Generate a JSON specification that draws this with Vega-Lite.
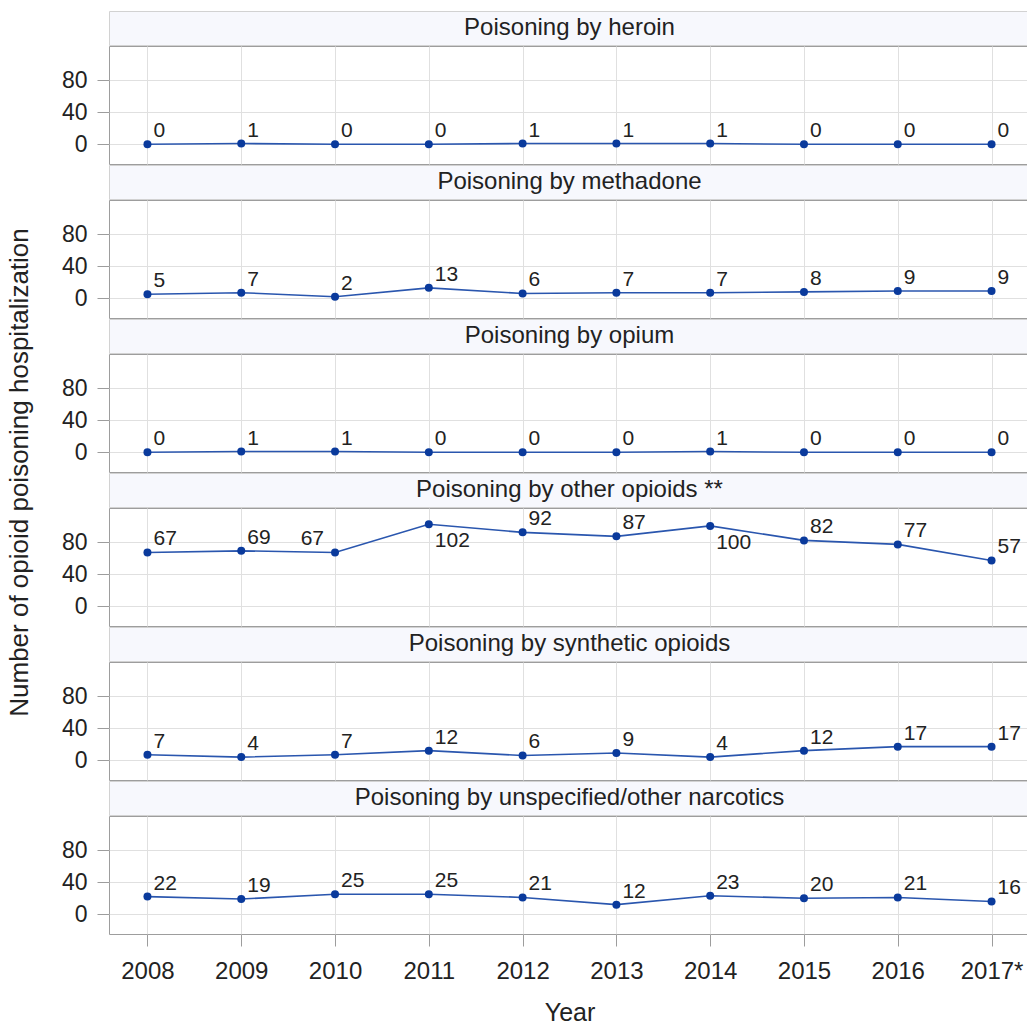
{
  "$schema": "https://vega.github.io/schema/vega-lite/v6.json",
  "padding": {"left": 0, "top": 10, "right": 0, "bottom": 0},
  "background": "white",
  "config": {
    "font": "Liberation Sans",
    "view": {"stroke": null},
    "axis": {
      "domain": false,
      "grid": true,
      "gridColor": "#e0e0e0",
      "gridWidth": 1,
      "tickColor": "#9d9d9d",
      "tickSize": 12,
      "labelColor": "#222222",
      "titleColor": "#222222",
      "titleFontWeight": "normal",
      "labelPadding": 10
    },
    "text": {"color": "#222222"}
  },
  "datasets": {
    "counts": [
      {"panel": "Poisoning by heroin", "year": "2008", "count": 0},
      {"panel": "Poisoning by heroin", "year": "2009", "count": 1},
      {"panel": "Poisoning by heroin", "year": "2010", "count": 0},
      {"panel": "Poisoning by heroin", "year": "2011", "count": 0},
      {"panel": "Poisoning by heroin", "year": "2012", "count": 1},
      {"panel": "Poisoning by heroin", "year": "2013", "count": 1},
      {"panel": "Poisoning by heroin", "year": "2014", "count": 1},
      {"panel": "Poisoning by heroin", "year": "2015", "count": 0},
      {"panel": "Poisoning by heroin", "year": "2016", "count": 0},
      {"panel": "Poisoning by heroin", "year": "2017*", "count": 0},
      {"panel": "Poisoning by methadone", "year": "2008", "count": 5},
      {"panel": "Poisoning by methadone", "year": "2009", "count": 7},
      {"panel": "Poisoning by methadone", "year": "2010", "count": 2},
      {"panel": "Poisoning by methadone", "year": "2011", "count": 13},
      {"panel": "Poisoning by methadone", "year": "2012", "count": 6},
      {"panel": "Poisoning by methadone", "year": "2013", "count": 7},
      {"panel": "Poisoning by methadone", "year": "2014", "count": 7},
      {"panel": "Poisoning by methadone", "year": "2015", "count": 8},
      {"panel": "Poisoning by methadone", "year": "2016", "count": 9},
      {"panel": "Poisoning by methadone", "year": "2017*", "count": 9},
      {"panel": "Poisoning by opium", "year": "2008", "count": 0},
      {"panel": "Poisoning by opium", "year": "2009", "count": 1},
      {"panel": "Poisoning by opium", "year": "2010", "count": 1},
      {"panel": "Poisoning by opium", "year": "2011", "count": 0},
      {"panel": "Poisoning by opium", "year": "2012", "count": 0},
      {"panel": "Poisoning by opium", "year": "2013", "count": 0},
      {"panel": "Poisoning by opium", "year": "2014", "count": 1},
      {"panel": "Poisoning by opium", "year": "2015", "count": 0},
      {"panel": "Poisoning by opium", "year": "2016", "count": 0},
      {"panel": "Poisoning by opium", "year": "2017*", "count": 0},
      {"panel": "Poisoning by other opioids **", "year": "2008", "count": 67},
      {"panel": "Poisoning by other opioids **", "year": "2009", "count": 69},
      {"panel": "Poisoning by other opioids **", "year": "2010", "count": 67},
      {"panel": "Poisoning by other opioids **", "year": "2011", "count": 102},
      {"panel": "Poisoning by other opioids **", "year": "2012", "count": 92},
      {"panel": "Poisoning by other opioids **", "year": "2013", "count": 87},
      {"panel": "Poisoning by other opioids **", "year": "2014", "count": 100},
      {"panel": "Poisoning by other opioids **", "year": "2015", "count": 82},
      {"panel": "Poisoning by other opioids **", "year": "2016", "count": 77},
      {"panel": "Poisoning by other opioids **", "year": "2017*", "count": 57},
      {"panel": "Poisoning by synthetic opioids", "year": "2008", "count": 7},
      {"panel": "Poisoning by synthetic opioids", "year": "2009", "count": 4},
      {"panel": "Poisoning by synthetic opioids", "year": "2010", "count": 7},
      {"panel": "Poisoning by synthetic opioids", "year": "2011", "count": 12},
      {"panel": "Poisoning by synthetic opioids", "year": "2012", "count": 6},
      {"panel": "Poisoning by synthetic opioids", "year": "2013", "count": 9},
      {"panel": "Poisoning by synthetic opioids", "year": "2014", "count": 4},
      {"panel": "Poisoning by synthetic opioids", "year": "2015", "count": 12},
      {"panel": "Poisoning by synthetic opioids", "year": "2016", "count": 17},
      {"panel": "Poisoning by synthetic opioids", "year": "2017*", "count": 17},
      {"panel": "Poisoning by unspecified/other narcotics", "year": "2008", "count": 22},
      {"panel": "Poisoning by unspecified/other narcotics", "year": "2009", "count": 19},
      {"panel": "Poisoning by unspecified/other narcotics", "year": "2010", "count": 25},
      {"panel": "Poisoning by unspecified/other narcotics", "year": "2011", "count": 25},
      {"panel": "Poisoning by unspecified/other narcotics", "year": "2012", "count": 21},
      {"panel": "Poisoning by unspecified/other narcotics", "year": "2013", "count": 12},
      {"panel": "Poisoning by unspecified/other narcotics", "year": "2014", "count": 23},
      {"panel": "Poisoning by unspecified/other narcotics", "year": "2015", "count": 20},
      {"panel": "Poisoning by unspecified/other narcotics", "year": "2016", "count": 21},
      {"panel": "Poisoning by unspecified/other narcotics", "year": "2017*", "count": 16}
    ],
    "ytitle": [{"t": "Number of opioid poisoning hospitalization"}]
  },
  "data": {"name": "counts"},
  "spacing": 20,
  "hconcat": [
    {
      "width": 40,
      "height": 923,
      "data": {"name": "ytitle"},
      "mark": {"type": "text", "angle": 270, "fontSize": 26, "align": "center", "baseline": "middle"},
      "encoding": {"text": {"field": "t"}}
    },
    {
      "spacing": 1,
      "bounds": "flush",
      "vconcat": [
        {
          "width": 921, "height": 34,
          "view": {"fill": "#f7f8fd", "stroke": "#d2d2d2"},
          "transform": [{"filter": "datum.panel === 'Poisoning by heroin' && datum.year === '2008'"}],
          "mark": {"type": "text", "fontSize": 24},
          "encoding": {"text": {"field": "panel"}}
        },
        {
          "width": 921, "height": 118,
          "view": {"stroke": "#9d9d9d"},
          "transform": [{"filter": "datum.panel === 'Poisoning by heroin'"}],
          "encoding": {
            "x": {"field": "year", "type": "ordinal", "scale": {"type": "point", "padding": 0.41},
                  "axis": {"labels": false, "ticks": false, "title": null}},
            "y": {"field": "count", "type": "quantitative", "scale": {"domain": [-24.5, 122.3], "nice": false, "zero": false},
                  "axis": {"values": [0, 40, 80], "title": null, "labelFontSize": 23}}
          },
          "layer": [
            {"mark": {"type": "line", "color": "#2a56ae", "strokeWidth": 1.6}},
            {"mark": {"type": "point", "filled": true, "size": 64, "color": "#0a3a9c", "opacity": 1}},
            {"mark": {"type": "text", "align": "left", "dx": 6, "dy": -13, "fontSize": 21}, "encoding": {"text": {"field": "count"}}}
          ]
        },
        {
          "width": 921, "height": 34,
          "view": {"fill": "#f7f8fd", "stroke": "#d2d2d2"},
          "transform": [{"filter": "datum.panel === 'Poisoning by methadone' && datum.year === '2008'"}],
          "mark": {"type": "text", "fontSize": 24},
          "encoding": {"text": {"field": "panel"}}
        },
        {
          "width": 921, "height": 118,
          "view": {"stroke": "#9d9d9d"},
          "transform": [{"filter": "datum.panel === 'Poisoning by methadone'"}],
          "encoding": {
            "x": {"field": "year", "type": "ordinal", "scale": {"type": "point", "padding": 0.41},
                  "axis": {"labels": false, "ticks": false, "title": null}},
            "y": {"field": "count", "type": "quantitative", "scale": {"domain": [-24.5, 122.3], "nice": false, "zero": false},
                  "axis": {"values": [0, 40, 80], "title": null, "labelFontSize": 23}}
          },
          "layer": [
            {"mark": {"type": "line", "color": "#2a56ae", "strokeWidth": 1.6}},
            {"mark": {"type": "point", "filled": true, "size": 64, "color": "#0a3a9c", "opacity": 1}},
            {"mark": {"type": "text", "align": "left", "dx": 6, "dy": -13, "fontSize": 21}, "encoding": {"text": {"field": "count"}}}
          ]
        },
        {
          "width": 921, "height": 34,
          "view": {"fill": "#f7f8fd", "stroke": "#d2d2d2"},
          "transform": [{"filter": "datum.panel === 'Poisoning by opium' && datum.year === '2008'"}],
          "mark": {"type": "text", "fontSize": 24},
          "encoding": {"text": {"field": "panel"}}
        },
        {
          "width": 921, "height": 118,
          "view": {"stroke": "#9d9d9d"},
          "transform": [{"filter": "datum.panel === 'Poisoning by opium'"}],
          "encoding": {
            "x": {"field": "year", "type": "ordinal", "scale": {"type": "point", "padding": 0.41},
                  "axis": {"labels": false, "ticks": false, "title": null}},
            "y": {"field": "count", "type": "quantitative", "scale": {"domain": [-24.5, 122.3], "nice": false, "zero": false},
                  "axis": {"values": [0, 40, 80], "title": null, "labelFontSize": 23}}
          },
          "layer": [
            {"mark": {"type": "line", "color": "#2a56ae", "strokeWidth": 1.6}},
            {"mark": {"type": "point", "filled": true, "size": 64, "color": "#0a3a9c", "opacity": 1}},
            {"mark": {"type": "text", "align": "left", "dx": 6, "dy": -13, "fontSize": 21}, "encoding": {"text": {"field": "count"}}}
          ]
        },
        {
          "width": 921, "height": 34,
          "view": {"fill": "#f7f8fd", "stroke": "#d2d2d2"},
          "transform": [{"filter": "datum.panel === 'Poisoning by other opioids **' && datum.year === '2008'"}],
          "mark": {"type": "text", "fontSize": 24},
          "encoding": {"text": {"field": "panel"}}
        },
        {
          "width": 921, "height": 118,
          "view": {"stroke": "#9d9d9d"},
          "transform": [{"filter": "datum.panel === 'Poisoning by other opioids **'"}],
          "encoding": {
            "x": {"field": "year", "type": "ordinal", "scale": {"type": "point", "padding": 0.41},
                  "axis": {"labels": false, "ticks": false, "title": null}},
            "y": {"field": "count", "type": "quantitative", "scale": {"domain": [-24.5, 122.3], "nice": false, "zero": false},
                  "axis": {"values": [0, 40, 80], "title": null, "labelFontSize": 23}}
          },
          "layer": [
            {"mark": {"type": "line", "color": "#2a56ae", "strokeWidth": 1.6}},
            {"mark": {"type": "point", "filled": true, "size": 64, "color": "#0a3a9c", "opacity": 1}},
            {
              "transform": [{"filter": "datum.count < 100 && datum.year !== '2010'"}],
              "mark": {"type": "text", "align": "left", "dx": 6, "dy": -13, "fontSize": 21},
              "encoding": {"text": {"field": "count"}}
            },
            {
              "transform": [{"filter": "datum.count >= 100"}],
              "mark": {"type": "text", "align": "left", "baseline": "top", "dx": 6, "dy": 6, "fontSize": 21},
              "encoding": {"text": {"field": "count"}}
            },
            {
              "transform": [{"filter": "datum.year === '2010'"}],
              "mark": {"type": "text", "align": "right", "dx": -11, "dy": -13, "fontSize": 21},
              "encoding": {"text": {"field": "count"}}
            }
          ]
        },
        {
          "width": 921, "height": 34,
          "view": {"fill": "#f7f8fd", "stroke": "#d2d2d2"},
          "transform": [{"filter": "datum.panel === 'Poisoning by synthetic opioids' && datum.year === '2008'"}],
          "mark": {"type": "text", "fontSize": 24},
          "encoding": {"text": {"field": "panel"}}
        },
        {
          "width": 921, "height": 118,
          "view": {"stroke": "#9d9d9d"},
          "transform": [{"filter": "datum.panel === 'Poisoning by synthetic opioids'"}],
          "encoding": {
            "x": {"field": "year", "type": "ordinal", "scale": {"type": "point", "padding": 0.41},
                  "axis": {"labels": false, "ticks": false, "title": null}},
            "y": {"field": "count", "type": "quantitative", "scale": {"domain": [-24.5, 122.3], "nice": false, "zero": false},
                  "axis": {"values": [0, 40, 80], "title": null, "labelFontSize": 23}}
          },
          "layer": [
            {"mark": {"type": "line", "color": "#2a56ae", "strokeWidth": 1.6}},
            {"mark": {"type": "point", "filled": true, "size": 64, "color": "#0a3a9c", "opacity": 1}},
            {"mark": {"type": "text", "align": "left", "dx": 6, "dy": -13, "fontSize": 21}, "encoding": {"text": {"field": "count"}}}
          ]
        },
        {
          "width": 921, "height": 34,
          "view": {"fill": "#f7f8fd", "stroke": "#d2d2d2"},
          "transform": [{"filter": "datum.panel === 'Poisoning by unspecified/other narcotics' && datum.year === '2008'"}],
          "mark": {"type": "text", "fontSize": 24},
          "encoding": {"text": {"field": "panel"}}
        },
        {
          "width": 921, "height": 118,
          "view": {"stroke": "#9d9d9d"},
          "transform": [{"filter": "datum.panel === 'Poisoning by unspecified/other narcotics'"}],
          "encoding": {
            "x": {"field": "year", "type": "ordinal", "scale": {"type": "point", "padding": 0.41},
                  "axis": {"labelAngle": 0, "labelFontSize": 24, "labelPadding": 13, "title": "Year", "titleFontSize": 25, "titlePadding": 17}},
            "y": {"field": "count", "type": "quantitative", "scale": {"domain": [-24.5, 122.3], "nice": false, "zero": false},
                  "axis": {"values": [0, 40, 80], "title": null, "labelFontSize": 23}}
          },
          "layer": [
            {"mark": {"type": "line", "color": "#2a56ae", "strokeWidth": 1.6}},
            {"mark": {"type": "point", "filled": true, "size": 64, "color": "#0a3a9c", "opacity": 1}},
            {"mark": {"type": "text", "align": "left", "dx": 6, "dy": -13, "fontSize": 21}, "encoding": {"text": {"field": "count"}}}
          ]
        }
      ]
    }
  ]
}
